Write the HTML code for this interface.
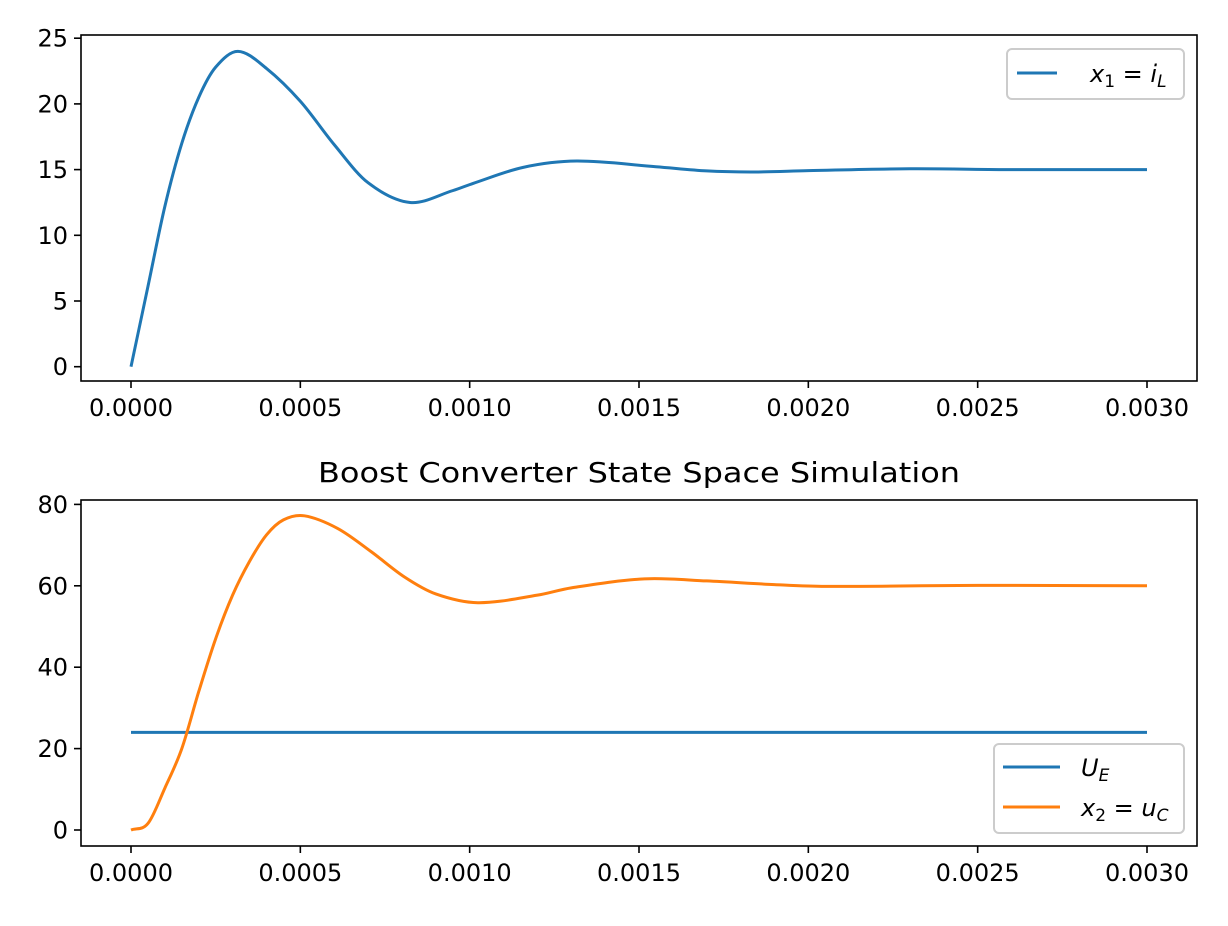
<!DOCTYPE html>
<html><head><meta charset="utf-8"><style>
body{margin:0;background:#fff}
svg text{font-family:"DejaVu Sans","Liberation Sans",sans-serif;fill:#000}
</style></head><body>
<svg id="chart" width="1228" height="921" viewBox="0 0 1228 921" xmlns="http://www.w3.org/2000/svg">
<rect width="1228" height="921" fill="#fff"/>
<g id="top"></g>
<g id="bot"></g>
<text x="639" y="482" text-anchor="middle" font-size="28" textLength="642" lengthAdjust="spacingAndGlyphs">Boost Converter State Space Simulation</text>
<g>
<rect x="1007" y="49" width="177" height="50" rx="5" fill="#fff" stroke="#ccc" stroke-width="2"/>
<line x1="1017" y1="73" x2="1057" y2="73" stroke="#1f77b4" stroke-width="3"/>
<text x="1090" y="82" font-size="24" font-style="italic">x<tspan font-size="17" dy="5" font-style="normal">1</tspan><tspan dy="-5" font-style="normal"> = </tspan>i<tspan font-size="17" dy="5">L</tspan></text>
</g>
<g>
<rect x="994" y="744" width="190" height="89" rx="5" fill="#fff" stroke="#ccc" stroke-width="2"/>
<line x1="1003" y1="767" x2="1060" y2="767" stroke="#1f77b4" stroke-width="3"/>
<text x="1081" y="776" font-size="24" font-style="italic">U<tspan font-size="17" dy="5">E</tspan></text>
<line x1="1003" y1="807" x2="1060" y2="807" stroke="#ff7f0e" stroke-width="3"/>
<text x="1081" y="816" font-size="24" font-style="italic">x<tspan font-size="17" dy="5" font-style="normal">2</tspan><tspan dy="-5" font-style="normal"> = </tspan>u<tspan font-size="17" dy="5">C</tspan></text>
</g>
</svg>
<script>
const xTicks = [0,0.0005,0.001,0.0015,0.002,0.0025,0.003];
const xTickLabels = ["0.0000","0.0005","0.0010","0.0015","0.0020","0.0025","0.0030"];
const topYTicks = [0,5,10,15,20,25];
const botYTicks = [0,20,40,60,80];
const t1 = [0,0.00005,0.0001,0.00015,0.0002,0.00025,0.000316,0.0004,0.0005,0.0006,0.0007,0.000824,0.00095,0.00101,0.001158,0.001316,0.00155,0.0017,0.00184,0.002,0.0023,0.0026,0.003];
const x1 = [0,6.1,12.2,17,20.5,22.8,24.0,22.7,20.2,16.9,14.0,12.5,13.4,13.95,15.17,15.65,15.22,14.9,14.82,14.92,15.06,15.0,15.0];
const t2 = [0,0.00005,0.0001,0.00015,0.0002,0.00025,0.0003,0.00035,0.0004,0.00045,0.000512,0.00061,0.000709,0.000807,0.0009,0.001024,0.0012,0.0013,0.001516,0.0017,0.0019,0.00205,0.0025,0.003];
const x2 = [0,1.6,10.3,20,34,47,57.7,66,72.5,76.2,77.2,74.1,68.4,62.2,58.0,55.85,57.7,59.5,61.7,61.2,60.3,59.85,60.1,60];
const tUE = [0,0.003];
const UE = [24,24];

const NS="http://www.w3.org/2000/svg";
const xs = t => 131 + t/0.003*1016;
const yTop = v => 366.7 - v*13.14;
const yBot = v => 830 - v*4.07;
function mk(tag, attrs, parent){const e=document.createElementNS(NS,tag);for(const k in attrs)e.setAttribute(k,attrs[k]);parent.appendChild(e);return e;}
function spline(ts, vs, ys){
  const p = ts.map((t,i)=>[xs(t),ys(vs[i])]);
  const n=p.length;
  let s="M"+p[0][0]+","+p[0][1];
  for(let i=0;i<n-1;i++){
    const p0=p[Math.max(0,i-1)],p1=p[i],p2=p[i+1],p3=p[Math.min(n-1,i+2)];
    // non-uniform Catmull-Rom tangents (finite differences scaled by interval)
    const h=p2[0]-p1[0];
    const m1=(p2[1]-p0[1])/(p2[0]-p0[0]||1);
    const m2=(p3[1]-p1[1])/(p3[0]-p1[0]||1);
    s+=" C"+(p1[0]+h/3)+","+(p1[1]+m1*h/3)+" "+(p2[0]-h/3)+","+(p2[1]-m2*h/3)+" "+p2[0]+","+p2[1];
  }
  return s;
}
function axes(g, top, bottom, yTicks, ys, name){
  xTicks.forEach((t,i)=>{
    const l=mk('line',{x1:xs(t),x2:xs(t),y1:bottom,y2:bottom+7,stroke:'#000','stroke-width':1.6},g);
    
    
    const tx=mk('text',{x:xs(t),y:bottom+35,'text-anchor':'middle','font-size':24},g);
    
    
    tx.textContent=xTickLabels[i];
  });
  yTicks.forEach(v=>{
    const l=mk('line',{x1:74,x2:81,y1:ys(v),y2:ys(v),stroke:'#000','stroke-width':1.6},g);
    
    
    const tx=mk('text',{x:68,y:ys(v)+8.5,'text-anchor':'end','font-size':24},g);
    
    
    tx.textContent=String(v);
  });
}
const gt=document.getElementById('top'), gb=document.getElementById('bot');
axes(gt,35,381,topYTicks,yTop,'top');
axes(gb,500,846,botYTicks,yBot,'bottom');
const s1=mk('path',{d:spline(t1,x1,yTop),fill:'none',stroke:'#1f77b4','stroke-width':3},gt);


const s3=mk('path',{d:spline(tUE,UE,yBot),fill:'none',stroke:'#1f77b4','stroke-width':3},gb);


const s2=mk('path',{d:spline(t2,x2,yBot),fill:'none',stroke:'#ff7f0e','stroke-width':3},gb);


const f1=mk('rect',{x:81,y:35,width:1116,height:346,fill:'none',stroke:'#000','stroke-width':1.6},gt);


const f2=mk('rect',{x:81,y:500,width:1116,height:346,fill:'none',stroke:'#000','stroke-width':1.6},gb);


</script>
</body></html>
